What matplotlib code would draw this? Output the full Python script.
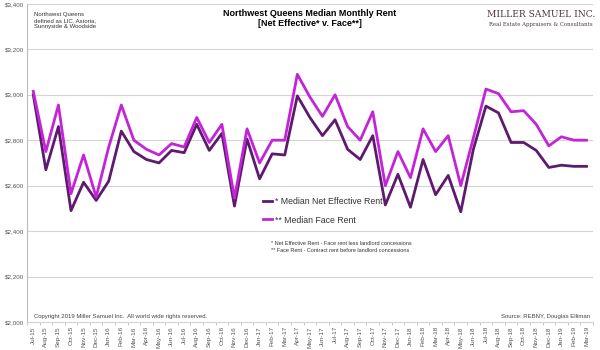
import matplotlib.pyplot as plt
from matplotlib.ticker import FuncFormatter, FixedLocator

plt.rcParams["font.family"] = ["Liberation Sans", "DejaVu Sans"]

months = [
    "Jul-15", "Aug-15", "Sep-15", "Oct-15", "Nov-15", "Dec-15",
    "Jan-16", "Feb-16", "Mar-16", "Apr-16", "May-16", "Jun-16",
    "Jul-16", "Aug-16", "Sep-16", "Oct-16", "Nov-16", "Dec-16",
    "Jan-17", "Feb-17", "Mar-17", "Apr-17", "May-17", "Jun-17",
    "Jul-17", "Aug-17", "Sep-17", "Oct-17", "Nov-17", "Dec-17",
    "Jan-18", "Feb-18", "Mar-18", "Apr-18", "May-18", "Jun-18",
    "Jul-18", "Aug-18", "Sep-18", "Oct-18", "Nov-18", "Dec-18",
    "Jan-19", "Feb-19", "Mar-19",
]

net_effective = [
    3000, 2670, 2860, 2490, 2615, 2535,
    2620, 2840, 2750, 2715, 2700, 2755,
    2745, 2870, 2755, 2830, 2510, 2805,
    2630, 2740, 2735, 2995, 2900, 2820,
    2890, 2760, 2715, 2820, 2515, 2650,
    2505, 2715, 2560, 2645, 2485, 2760,
    2950, 2920, 2790, 2790, 2755, 2680,
    2690, 2685, 2685,
]

face = [
    3015, 2750, 2955, 2565, 2735, 2550,
    2770, 2955, 2800, 2760, 2735, 2785,
    2770, 2900, 2790, 2870, 2545, 2850,
    2700, 2800, 2800, 3090, 2990, 2905,
    3000, 2860, 2800, 2925, 2600, 2750,
    2635, 2850, 2750, 2820, 2600, 2810,
    3025, 3005, 2925, 2930, 2870, 2775,
    2815, 2800, 2800,
]

NET_COLOR = "#5e1a6e"
FACE_COLOR = "#c424d8"
GRAY = "#555555"

fig = plt.figure(figsize=(6, 3.5), dpi=100)
ax = fig.add_axes([0.045, 0.08, 0.943, 0.909])

x = range(len(months))
ax.plot(x, net_effective, color=NET_COLOR, linewidth=2.0,
        label="* Median Net Effective Rent", zorder=3)
ax.plot(x, face, color=FACE_COLOR, linewidth=2.0,
        label="** Median Face Rent", zorder=3)

ax.set_xlim(-0.5, len(months) - 0.5)
ax.set_ylim(2000, 3400)
ax.set_yticks(range(2000, 3401, 200))
ax.yaxis.set_major_formatter(FuncFormatter(lambda v, _: f"${v:,.0f}"))
ax.grid(axis="y", color="#d4d4d4", linewidth=0.8)
ax.set_axisbelow(True)

ax.set_xticks(list(x))
ax.set_xticklabels(months, rotation=90, fontsize=4.6, color=GRAY)
ax.xaxis.set_minor_locator(FixedLocator([i - 0.5 for i in range(len(months) + 1)]))
ax.tick_params(axis="x", which="major", length=0, pad=3)
ax.tick_params(axis="x", which="minor", length=2.5, color="#bbbbbb", width=0.6)
ax.tick_params(axis="y", length=0, labelsize=4.5, labelcolor=GRAY, pad=2)

for side in ["top", "right"]:
    ax.spines[side].set_visible(False)
ax.spines["left"].set_color("#bbbbbb")
ax.spines["bottom"].set_color("#d4d4d4")

ax.text(0.5, 0.985, "Northwest Queens Median Monthly Rent\n[Net Effective* v. Face**]",
        transform=ax.transAxes, fontsize=6.5, fontweight="bold", ha="center", va="top",
        linespacing=1.25)

ax.text(0.012, 0.975, "Northwest Queens\ndefined as LIC, Astoria,\nSunnyside & Woodside",
        transform=ax.transAxes, fontsize=4.3, va="top", color="#333333", linespacing=1.3)

fig.text(0.902, 0.958, "MILLER SAMUEL INC.", family="DejaVu Serif", fontsize=6.6,
         color="#4a3a3a", ha="center", va="center")
fig.text(0.902, 0.930, "Real Estate Appraisers & Consultants", family="DejaVu Serif",
         fontsize=3.9, color="#4a3a3a", ha="center", va="center")

leg = ax.legend(loc="upper left", bbox_to_anchor=(0.403, 0.418), frameon=False,
                fontsize=6.3, handlelength=1.0, handletextpad=0.35,
                labelspacing=1.1, labelcolor="#333333")

ax.text(0.431, 0.236, "* Net Effective Rent - Face rent less landlord concessions\n"
        "** Face Rent - Contract rent before landlord concessions",
        transform=ax.transAxes, fontsize=4.0, va="center", ha="left",
        color="#333333", linespacing=1.6)

ax.text(0.012, 0.01, "Copyright 2019 Miller Samuel Inc.  All world wide rights reserved.",
        transform=ax.transAxes, fontsize=4.3, va="bottom", color="#444444")
ax.text(0.995, 0.01, "Source: REBNY, Douglas Elliman",
        transform=ax.transAxes, fontsize=4.3, va="bottom", ha="right", color="#444444")

fig.savefig("out.png", dpi=100)
